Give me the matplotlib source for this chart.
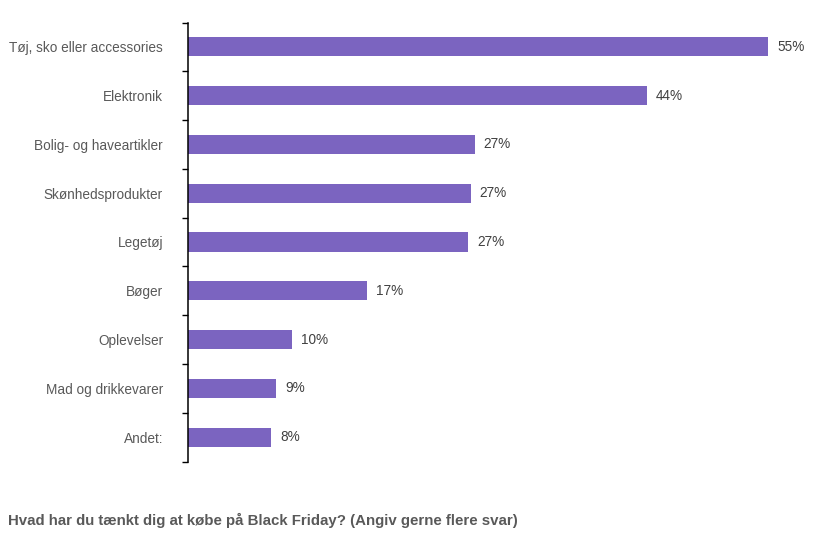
import matplotlib
matplotlib.use("Agg")
import matplotlib.pyplot as plt

categories = ["Tøj, sko eller accessories", "Elektronik", "Bolig- og haveartikler",
              "Skønhedsprodukter", "Legetøj", "Bøger", "Oplevelser",
              "Mad og drikkevarer", "Andet:"]
values = [55.0, 43.5, 27.2, 26.8, 26.6, 17.0, 9.9, 8.4, 7.9]
value_labels = ["55%", "44%", "27%", "27%", "27%", "17%", "10%", "9%", "8%"]
title = "Hvad har du tænkt dig at købe på Black Friday? (Angiv gerne flere svar)"

plt.rcParams['font.family'] = ['Liberation Sans', 'DejaVu Sans']

W, H = 839, 541
fig = plt.figure(figsize=(W / 100, H / 100), dpi=100)
x0, x1 = 187.5, 187.5 + 60 * 10.56
y_top, y_bot = 22.5, 461.5
ax = fig.add_axes([x0 / W, (H - y_bot) / H, (x1 - x0) / W, (y_bot - y_top) / H])

n = len(categories)
pos = list(range(n))
ax.barh(pos, values, height=0.39, color="#7B64C0")
for p, v, lab in zip(pos, values, value_labels):
    ax.text(v + 0.85, p, lab, va="center", ha="left", fontsize=9.8, color="#404040")

ax.set_ylim(n - 0.5, -0.5)
ax.set_xlim(0, 60)
ax.set_yticks(pos)
ax.set_yticklabels(categories, fontsize=9.8, color="#595959")
ax.tick_params(axis="y", which="major", length=0, pad=17.6)
ax.set_yticks([i - 0.5 for i in range(n + 1)], minor=True)
ax.tick_params(axis="y", which="minor", length=4.5, width=1, color="black")
ax.set_xticks([])
for s in ["top", "right", "bottom"]:
    ax.spines[s].set_visible(False)
ax.spines["left"].set_linewidth(1.1)

fig.text(8 / W, 1 - 520 / H, title, fontsize=10.8, fontweight="bold",
         color="#595959", ha="left", va="center")

fig.savefig("out.png", dpi=100)
